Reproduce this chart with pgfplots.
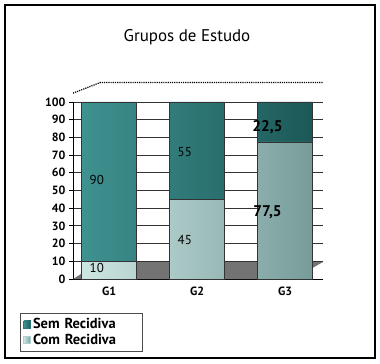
\documentclass[border=0pt]{standalone}
\usepackage{fontspec}
\setmainfont{PT Sans}
\usepackage{pgfplots}
\pgfplotsset{compat=1.18}
\definecolor{semc}{RGB}{42,122,122}
\definecolor{semL}{RGB}{62,146,144}
\definecolor{semD}{RGB}{28,88,88}
\definecolor{comc}{RGB}{172,210,206}
\definecolor{comL}{RGB}{205,230,227}
\definecolor{comD}{RGB}{118,156,154}
\pgfplotsset{common/.style={
  at={(0,0)}, anchor=south west,
  scale only axis, width=250bp, height=177bp,
  xmin=-0.41, xmax=2.43, ymin=0, ymax=100, clip=false}}
\begin{document}
\begin{tikzpicture}
\path (-73bp,-85bp) rectangle (307bp,279bp);
\draw[line width=1.3bp] (-68bp,-79bp) rectangle (302bp,274bp);
\node[font=\fontsize{17}{20}\selectfont] at (114bp,242bp) {Grupos de Estudo};
% background: grid, floor, ticks
\begin{axis}[common,
  xtick={0,1,2}, xticklabels={G1,G2,G3},
  ytick={0,10,...,100},
  axis x line*=bottom, axis y line*=left,
  axis line style={black, line width=0.9bp},
  ymajorgrids, grid style={black!80, line width=0.9bp},
  tick align=outside, xtick style={draw=none},
  ytick style={black, line width=0.8bp},
  major tick length=4bp,
  tick label style={font=\bfseries\fontsize{12}{14}\selectfont},
  /pgf/number format/assume math mode=true,
]
\addplot[draw=none, fill=black!55, mark=none]
  coordinates {(-0.41,0) (2.09,0) (2.43,9.6) (-0.1,9.6) (-0.41,0)};
\addplot[densely dotted, line width=1.2bp, mark=none]
  coordinates {(-0.41,105) (-0.1,111) (2.43,111)};
\end{axis}
% bars
\begin{axis}[common,
  axis lines=none, ticks=none,
  ybar stacked, bar width=55bp,
  legend style={at={(-0.212,-0.192)}, anchor=north west, draw=black!70, line width=1bp,
    font=\bfseries\fontsize{14.5}{16}\selectfont, inner sep=3bp, row sep=0bp,
    text width=104bp},
  reverse legend,
  legend cell align=left,
]
\addplot[draw=black!80, line width=0.6bp, left color=comL, right color=comD,
  legend image code/.code={\fill[comc] (0bp,-3.5bp) rectangle (7bp,3.5bp);}]
  coordinates {(0,10) (1,45) (2,77.5)};
\addlegendentry{Com Recidiva}
\addplot[draw=black!80, line width=0.6bp, left color=semL, right color=semD,
  legend image code/.code={\fill[semc] (0bp,-3.5bp) rectangle (7bp,3.5bp);}]
  coordinates {(0,90) (1,55) (2,22.5)};
\addlegendentry{Sem Recidiva}
\end{axis}
% value labels
\begin{axis}[common, axis lines=none, ticks=none]
\addplot[only marks, mark size=0pt,
  mark options={draw=none, fill=none},
  nodes near coords, point meta=explicit symbolic,
  every node near coord/.append style={anchor=center, black,
    font=\fontsize{13}{15}\selectfont}]
  coordinates {(-0.14,6.2)[10] (-0.14,56)[90] (0.86,22)[45] (0.86,72)[55]};
\addplot[only marks, mark size=0pt,
  mark options={draw=none, fill=none},
  nodes near coords, point meta=explicit symbolic,
  every node near coord/.append style={anchor=center, black,
    font=\bfseries\fontsize{15.5}{18}\selectfont}]
  coordinates {(1.80,38)[77,5] (1.80,86)[22,5]};
\end{axis}
\end{tikzpicture}
\end{document}
